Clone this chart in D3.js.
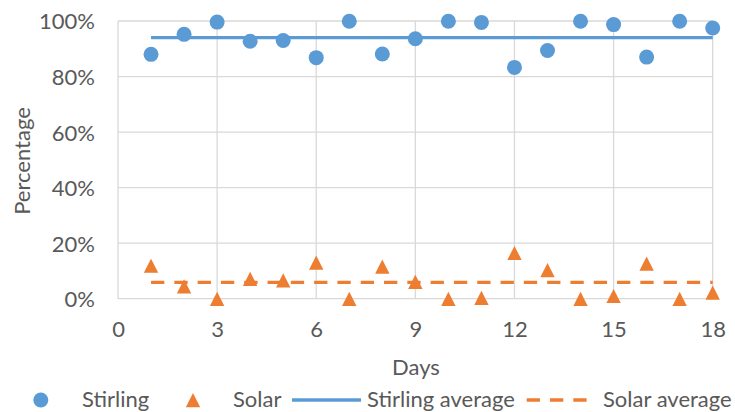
<!DOCTYPE html>
<html>
<head>
<meta charset="utf-8">
<script src="https://cdn.jsdelivr.net/npm/d3@7"></script>
<style>
  html, body { margin: 0; padding: 0; background: #fff; }
  svg { display: block; }
  text { font-family: Lato, "Open Sans", sans-serif; fill: #595959; }
</style>
</head>
<body>
<svg id="chart" width="735" height="412"></svg>
<script>
// Daily share of energy supplied by each source
const days = [1, 2, 3, 4, 5, 6, 7, 8, 9, 10, 11, 12, 13, 14, 15, 16, 17, 18];
const stirling = [0.880, 0.952, 0.996, 0.927, 0.930, 0.868, 0.999, 0.881, 0.936, 0.999,
                  0.995, 0.833, 0.894, 0.999, 0.987, 0.870, 0.999, 0.975];
const solar = [0.119, 0.045, 0.000, 0.072, 0.066, 0.130, 0.000, 0.116, 0.061, 0.000,
               0.003, 0.165, 0.103, 0.000, 0.010, 0.127, 0.000, 0.022];
const stirlingAverage = [0.940, 0.940];
const solarAverage = [0.059, 0.059];
const averageDays = [1, 18];

const xTicks = [0, 3, 6, 9, 12, 15, 18];
const yTicks = [0, 0.2, 0.4, 0.6, 0.8, 1.0];

const blue = "#5B9BD5";
const orange = "#ED7D31";
const grid = "#D9D9D9";
const fs = 22;

const svg = d3.select("#chart");

const x = d3.scaleLinear().domain([0, 18]).range([118, 712.7]);
const y = d3.scaleLinear().domain([0, 1]).range([298.7, 21]);

// gridlines
const gridG = svg.append("g");
gridG.selectAll("line.h").data(yTicks).join("line")
  .attr("x1", x(0)).attr("x2", x(18))
  .attr("y1", d => y(d)).attr("y2", d => y(d))
  .attr("stroke", grid).attr("stroke-width", 1.3);
gridG.selectAll("line.v").data(xTicks).join("line")
  .attr("y1", y(0)).attr("y2", y(1))
  .attr("x1", d => x(d)).attr("x2", d => x(d))
  .attr("stroke", grid).attr("stroke-width", 1.3);

// tick labels
const yAxis = d3.axisLeft(y).tickValues(yTicks).tickFormat(d3.format(".0%")).tickSize(0).tickPadding(0);
const yg = svg.append("g").attr("transform", "translate(95,0)").call(yAxis);
yg.select(".domain").remove();
yg.selectAll("text").attr("font-size", fs).attr("fill", "#595959")
  .style("font-family", "Lato, 'Open Sans', sans-serif").attr("dy", "0.36em").attr("x", 0);

const xAxis = d3.axisBottom(x).tickValues(xTicks).tickFormat(d3.format("d")).tickSize(0).tickPadding(0);
const xg = svg.append("g").attr("transform", "translate(0,321)").call(xAxis);
xg.select(".domain").remove();
xg.selectAll("text").attr("font-size", fs).attr("fill", "#595959")
  .style("font-family", "Lato, 'Open Sans', sans-serif").attr("dy", "0.71em").attr("y", 0);

// axis titles
svg.append("text").attr("x", 416).attr("y", 375).attr("text-anchor", "middle")
  .attr("font-size", fs).text("Days");
svg.append("text").attr("transform", "translate(30,161) rotate(-90)")
  .attr("text-anchor", "middle").attr("font-size", fs).text("Percentage");

// average lines
const line = d3.line().x(d => x(d[0])).y(d => y(d[1]));
svg.append("path").datum(averageDays.map((d, i) => [d, stirlingAverage[i]]))
  .attr("d", line).attr("fill", "none").attr("stroke", blue).attr("stroke-width", 3.3);
svg.append("path").datum(averageDays.map((d, i) => [d, solarAverage[i]]))
  .attr("d", line).attr("fill", "none").attr("stroke", orange).attr("stroke-width", 3.3)
  .attr("stroke-dasharray", "13.3,10");

// markers
const tri = "M0,-7L7.2,7.2L-7.2,7.2Z";
svg.append("g").selectAll("path").data(days).join("path")
  .attr("transform", (d, i) => `translate(${x(d)},${y(solar[i])})`)
  .attr("d", tri).attr("fill", orange);
svg.append("g").selectAll("circle").data(days).join("circle")
  .attr("cx", d => x(d)).attr("cy", (d, i) => y(stirling[i]))
  .attr("r", 7.5).attr("fill", blue);

// legend
const lg = svg.append("g");
const ly = 400;
lg.append("circle").attr("cx", 40.8).attr("cy", ly).attr("r", 7.5).attr("fill", blue);
lg.append("text").attr("x", 82).attr("y", ly + 7).attr("font-size", fs).text("Stirling");
lg.append("path").attr("transform", `translate(193,${ly})`).attr("d", tri).attr("fill", orange);
lg.append("text").attr("x", 233).attr("y", ly + 7).attr("font-size", fs).text("Solar");
lg.append("line").attr("x1", 292).attr("x2", 361).attr("y1", ly).attr("y2", ly)
  .attr("stroke", blue).attr("stroke-width", 3.3);
lg.append("text").attr("x", 367).attr("y", ly + 7).attr("font-size", fs).text("Stirling average");
lg.append("line").attr("x1", 526.7).attr("x2", 587).attr("y1", ly).attr("y2", ly)
  .attr("stroke", orange).attr("stroke-width", 3.3).attr("stroke-dasharray", "13.3,10");
lg.append("text").attr("x", 603).attr("y", ly + 7).attr("font-size", fs).text("Solar average");
</script>
</body>
</html>
